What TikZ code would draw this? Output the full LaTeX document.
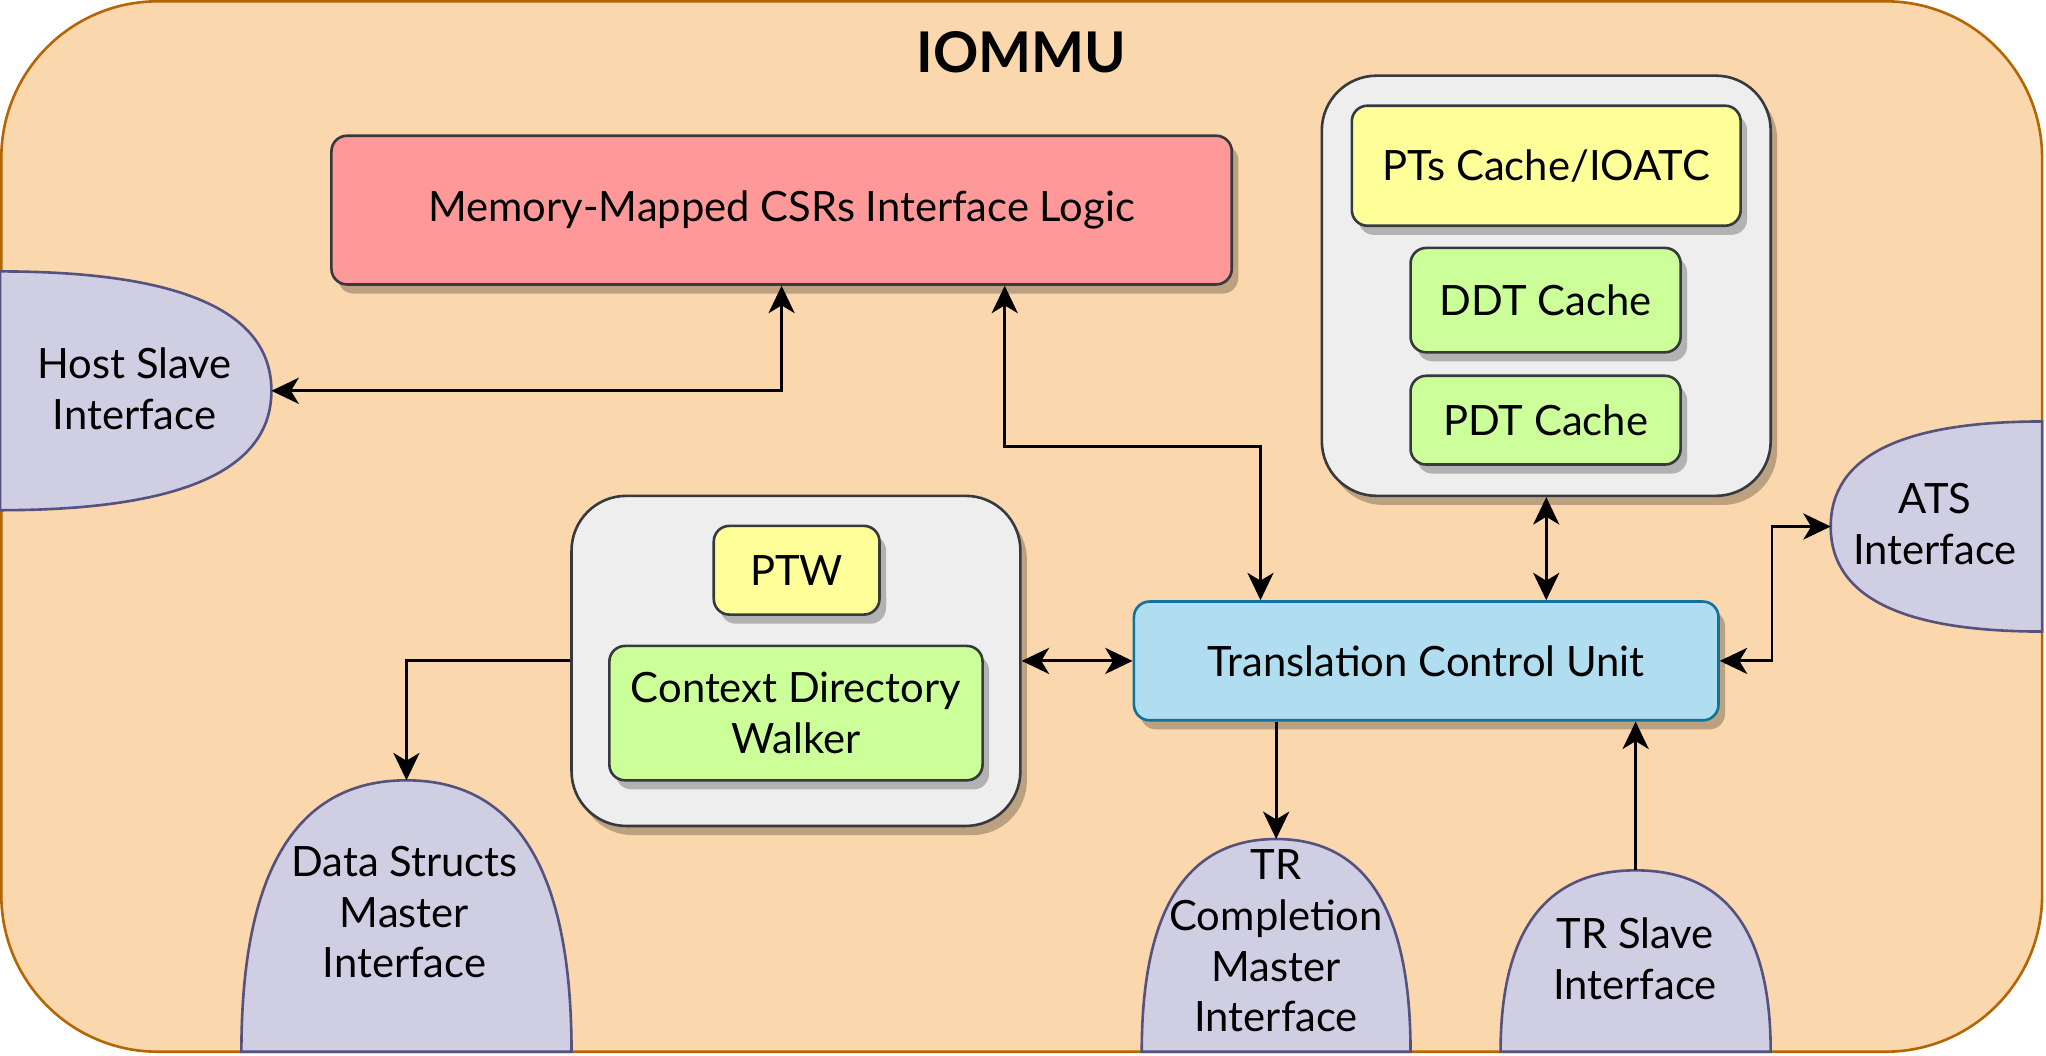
\documentclass[tikz,border=0pt]{standalone}
\usepackage{fontspec}
\setmainfont{Lato}
\usetikzlibrary{arrows.meta,shadows}
\definecolor{outerfill}{HTML}{FAD7AC}
\definecolor{outerline}{HTML}{B46504}
\definecolor{csrfill}{HTML}{FF9999}
\definecolor{boxline}{HTML}{36393D}
\definecolor{groupfill}{HTML}{EEEEEE}
\definecolor{cachefill}{HTML}{FFFF99}
\definecolor{walkfill}{HTML}{CCFF99}
\definecolor{tcufill}{HTML}{B1DDF0}
\definecolor{tculine}{HTML}{10739E}
\definecolor{portfill}{HTML}{D0CEE2}
\definecolor{portline}{HTML}{56517E}
\tikzset{
  unit/.style={draw=boxline, line width=2pt, rounded corners=12pt, align=center,
    drop shadow={shadow xshift=5pt, shadow yshift=-7pt, opacity=0.25, fill=black}},
  group/.style={unit, fill=groupfill, rounded corners=42pt},
  port/.style={draw=portline, fill=portfill, line width=2pt},
  portlabel/.style={align=center},
  link/.style={line width=2.2pt}
}
\begin{document}
\begin{tikzpicture}[x=1pt, y=-1pt, line width=2pt,
  >={Stealth[length=21pt,width=20pt,inset=6pt]},
  font=\fontsize{32}{39}\selectfont]
\useasboundingbox (0,0) rectangle (1568,809);
\draw[draw=outerline, fill=outerfill, rounded corners=120pt] (1,1) rectangle (1565,806);
\node[font=\fontsize{43}{50}\selectfont\bfseries] (title) at (783,40) {IOMMU};

\node[unit, fill=csrfill, minimum width=690, minimum height=114] (csr) at (599,161) {Memory-Mapped CSRs Interface Logic};

\node[group, minimum width=344, minimum height=322] (caches) at (1185,219) {};
\node[unit, fill=cachefill, minimum width=298, minimum height=92] (ptc) at (1185,127) {PTs Cache/IOATC};
\node[unit, fill=walkfill, minimum width=207, minimum height=80] (ddt) at (1184.5,230) {DDT Cache};
\node[unit, fill=walkfill, minimum width=207, minimum height=68] (pdt) at (1184.5,322) {PDT Cache};

\node[group, minimum width=344, minimum height=253] (walkers) at (610,506.5) {};
\node[unit, fill=cachefill, minimum width=127, minimum height=68] (ptw) at (610.5,437) {PTW};
\node[unit, fill=walkfill, minimum width=286, minimum height=103] (cdw) at (610,546.5) {Context Directory\\Walker};

\node[unit, draw=tculine, fill=tcufill, minimum width=448, minimum height=91] (tcu) at (1093,506.5) {Translation Control Unit};

\draw[port] (0,208) .. controls (138.7,208) and (208,238.5) .. (208,299.5)
  .. controls (208,360.5) and (138.7,391) .. (0,391) -- cycle;
\coordinate (hsi) at (208,299.5);
\node[portlabel] (host) at (103,298) {Host Slave\\Interface};

\draw[port] (1565,323) .. controls (1457,323) and (1403,349.8) .. (1403,403.5)
  .. controls (1403,457.2) and (1457,484) .. (1565,484) -- cycle;
\coordinate (atsi) at (1403,403.5);
\node[portlabel] (ats) at (1483,401.5) {ATS\\Interface};

\draw[port] (185,806) .. controls (185,667.3) and (227.2,598) .. (311.5,598)
  .. controls (395.8,598) and (438,667.3) .. (438,806) -- cycle;
\coordinate (dsmi) at (311.5,598);
\node[portlabel] (dsm) at (310,699) {Data Structs\\Master\\Interface};

\draw[port] (875,806) .. controls (875,697.3) and (909.3,643) .. (978,643)
  .. controls (1046.7,643) and (1081,697.3) .. (1081,806) -- cycle;
\coordinate (trci) at (978,643);
\node[portlabel] (trc) at (978,721) {TR\\Completion\\Master\\Interface};

\draw[port] (1150,806) .. controls (1150,713.3) and (1184.5,667) .. (1253.5,667)
  .. controls (1322.5,667) and (1357,713.3) .. (1357,806) -- cycle;
\coordinate (trsi) at (1253.5,667);
\node[portlabel] (trs) at (1253,735) {TR Slave\\Interface};

\draw[link, <->] (hsi) -| (csr.south);
\draw[link, <->] ([xshift=171pt]csr.south) -- ++(0,123) -| ([xshift=-127pt]tcu.north);
\draw[link, <->] (caches.south) -- (caches.south |- tcu.north);
\draw[link, <->] (walkers.east) -- (tcu.west);
\draw[link, <->] (tcu.east) -- ++(40,0) |- (atsi);
\draw[link, ->] (walkers.west) -| (dsmi);
\draw[link, ->] (trci |- tcu.south) -- (trci);
\draw[link, ->] (trsi) -- (trsi |- tcu.south);
\end{tikzpicture}
\end{document}
